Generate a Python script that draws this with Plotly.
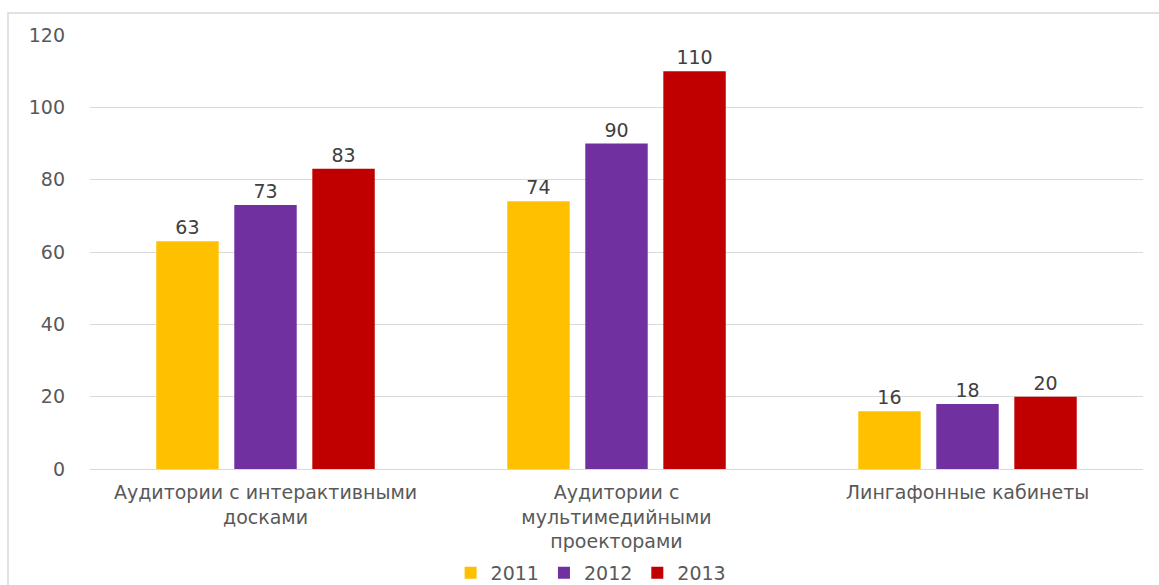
import plotly.graph_objects as go

categories = ["Аудитории с интерактивными<br>досками",
              "Аудитории с<br>мультимедийными<br>проекторами",
              "Лингафонные кабинеты"]
series_names = ["2011", "2012", "2013"]
values_2011 = [63, 74, 16]
values_2012 = [73, 90, 18]
values_2013 = [83, 110, 20]
colors = ["#FFC000", "#7030A0", "#C00000"]
y_ticks = [0, 20, 40, 60, 80, 100, 120]

font_family = "DejaVu Sans, Verdana, sans-serif"
fs = 19

fig = go.Figure()
for name, vals, col in zip(series_names, [values_2011, values_2012, values_2013], colors):
    fig.add_trace(go.Bar(
        x=categories, y=vals, name=name,
        marker=dict(color=col, line=dict(width=0)),
        text=[str(v) for v in vals], textposition="outside",
        textfont=dict(color="#404040", size=fs, family=font_family),
        cliponaxis=False,
    ))

W, H = 1159, 585
ml, mr, mt, mb = 90, 16, 35, 116
pw, ph = W - ml - mr, H - mt - mb

fig.update_layout(
    width=W, height=H,
    margin=dict(l=ml, r=mr, t=mt, b=mb, autoexpand=False),
    paper_bgcolor="white", plot_bgcolor="white",
    barmode="group", bargap=0.333, bargroupgap=0.2,
    font=dict(family=font_family, color="#595959", size=fs),
    legend=dict(orientation="h", xref="container", yref="paper",
                x=0.51, xanchor="center", y=-104 / ph, yanchor="middle",
                font=dict(size=fs, color="#595959"),
                traceorder="normal"),
    xaxis=dict(showgrid=False, showline=False, ticks="", automargin=False,
               ticklabelstandoff=10,
               tickfont=dict(size=fs, color="#595959")),
    yaxis=dict(range=[0, 120], tickvals=y_ticks, showgrid=True, automargin=False,
               gridcolor="#D9D9D9", gridwidth=1, zeroline=True,
               zerolinecolor="#D9D9D9", zerolinewidth=1, showline=False,
               ticks="", ticklabelstandoff=24,
               tickfont=dict(size=fs, color="#595959")),
    showlegend=True,
    shapes=[dict(type="rect", xref="paper", yref="paper",
                 x0=(8 - ml) / pw, x1=(W + 5 - ml) / pw,
                 y0=(H - mb - (H + 5)) / ph, y1=(H - mb - 13) / ph,
                 line=dict(color="#D9D9D9", width=1.5), fillcolor="rgba(0,0,0,0)",
                 layer="below")],
)

fig.write_html("out.html", config={"displayModeBar": False})

with open("out.html", "r", encoding="utf-8") as f:
    html = f.read()
html = html.replace("<body>", "<body style=\"margin:0;padding:0;overflow:hidden\">", 1)
with open("out.html", "w", encoding="utf-8") as f:
    f.write(html)
